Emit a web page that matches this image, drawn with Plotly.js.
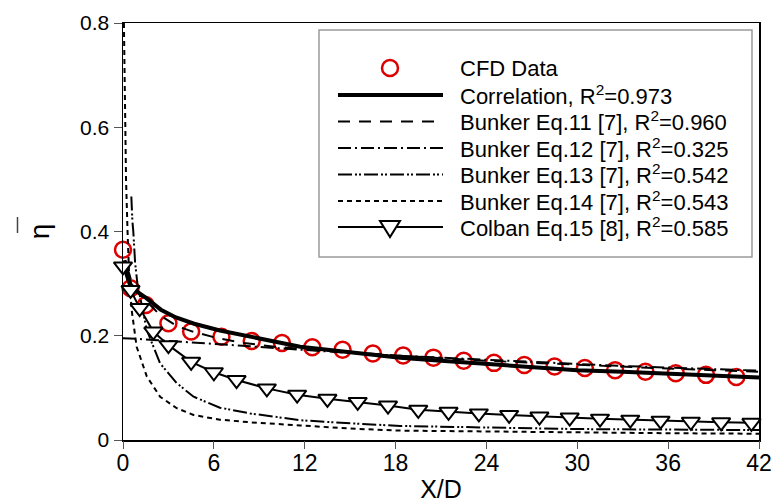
<!DOCTYPE html>
<html>
<head>
<meta charset="utf-8">
<script src="https://cdn.plot.ly/plotly-3.0.1.min.js"></script>
<style>html,body{margin:0;padding:0;background:#fff;}</style>
</head>
<body>
<div id="chart" style="width:773px;height:503px;"></div>
<script>
// ---- data ----
const cfdX = [0,0.5,1.5,3,4.5,6.5,8.5,10.5,12.5,14.5,16.5,18.5,20.5,22.5,24.5,26.5,28.5,30.5,32.5,34.5,36.5,38.5,40.5];
const cfdY = [0.365,0.291,0.259,0.224,0.208,0.198,0.190,0.186,0.178,0.173,0.166,0.162,0.158,0.152,0.148,0.144,0.141,0.138,0.134,0.131,0.128,0.125,0.121];

const corrX = [0.1,0.3,0.5,1,1.5,2.5,3.5,4.7,6.4,8.4,10,11.7,13.5,15,16.5,18.3,21,24,27,30,33,36,39,42];
const corrY = [0.345,0.315,0.298,0.283,0.273,0.25,0.235,0.223,0.21,0.198,0.188,0.179,0.173,0.168,0.163,0.158,0.152,0.146,0.140,0.134,0.131,0.127,0.123,0.12];

const b11X = [0.3,0.6,1,1.5,2.5,3.6,4.6,6.3,8,10,12,15,18,21,24,27,30,33,36,39,42];
const b11Y = [0.33,0.30,0.283,0.268,0.238,0.218,0.208,0.195,0.186,0.179,0.174,0.168,0.162,0.157,0.152,0.148,0.144,0.140,0.137,0.134,0.131];

const b12X = [0,0.6,1,2,4,6,8,10,12,15,18,21,24,27,30,33,36,39,42];
const b12Y = [0.195,0.195,0.194,0.192,0.188,0.184,0.181,0.177,0.173,0.167,0.162,0.158,0.154,0.149,0.145,0.142,0.139,0.136,0.133];

const b13X = [0.55,0.58,0.62,0.68,0.8,0.95,1.1,1.57,2.45,3.55,4.66,6.4,8.4,11.7,15,18.3,24,30,36,42];
const b13Y = [0.467,0.44,0.42,0.40,0.34,0.30,0.28,0.211,0.147,0.109,0.083,0.062,0.051,0.038,0.032,0.027,0.024,0.021,0.020,0.019];

const b14X = [0.06,0.1,0.14,0.2,0.3,0.4,0.57,0.9,1.57,2.45,3.55,4.66,6.4,8.4,11.7,15,18.3,24,30,36,42];
const b14Y = [0.8,0.7,0.6,0.5,0.4,0.32,0.25,0.179,0.122,0.083,0.061,0.048,0.039,0.034,0.028,0.022,0.018,0.016,0.014,0.013,0.012];

const colbanX = [0,0.5,1.1,2,3,4.5,6,7.5,9.5,11.5,13.5,15.5,17.5,19.5,21.5,23.5,25.5,27.5,29.5,31.5,33.5,35.5,37.5,39.5,41.5];
const colbanY = [0.333,0.288,0.253,0.208,0.182,0.150,0.130,0.115,0.099,0.087,0.079,0.073,0.066,0.058,0.054,0.051,0.048,0.045,0.043,0.041,0.039,0.037,0.035,0.034,0.033];

const seriesNames = [
  'CFD Data',
  'Correlation, R<sup>2</sup>=0.973',
  'Bunker Eq.11 [7], R<sup>2</sup>=0.960',
  'Bunker Eq.12 [7], R<sup>2</sup>=0.325',
  'Bunker Eq.13 [7], R<sup>2</sup>=0.542',
  'Bunker Eq.14 [7], R<sup>2</sup>=0.543',
  'Colban Eq.15 [8], R<sup>2</sup>=0.585'
];
const xTitle = 'X/D';
const yTitle = 'η';

// ---- styles ----
const FONT = 'Liberation Sans, Arial, sans-serif';
const NARROW = 'Liberation Sans Narrow, Arial Narrow, Liberation Sans, sans-serif';
const RED = 'rgb(220,0,0)';
const DASH11 = '12px,9px';
const DASH12 = '13px,4px,2px,4px';
const DASH13 = '14px,3px,2px,2px,2px,3px';
const DASH14 = '5px,4px';

const traces = [
  {x: cfdX, y: cfdY, name: seriesNames[0], mode: 'markers', cliponaxis: false,
   marker: {symbol: 'circle-open', size: 16, color: RED, line: {color: RED, width: 2.5}}},
  {x: b11X, y: b11Y, name: seriesNames[2], mode: 'lines', line: {color: 'black', width: 2, dash: DASH11}},
  {x: b12X, y: b12Y, name: seriesNames[3], mode: 'lines', line: {color: 'black', width: 2, dash: DASH12}},
  {x: b13X, y: b13Y, name: seriesNames[4], mode: 'lines', line: {color: 'black', width: 2, dash: DASH13}},
  {x: b14X, y: b14Y, name: seriesNames[5], mode: 'lines', line: {color: 'black', width: 2, dash: DASH14}},
  {x: corrX, y: corrY, name: seriesNames[1], mode: 'lines', line: {color: 'black', width: 4}},
  {x: colbanX, y: colbanY, name: seriesNames[6], mode: 'lines+markers', cliponaxis: false,
   line: {color: 'black', width: 2},
   marker: {symbol: 'triangle-down', size: 16, color: 'white', line: {color: 'black', width: 2}}},
  // empty helper trace so the tick-only overlay axis is drawn
  {x: [], y: [], xaxis: 'x2', yaxis: 'y', mode: 'lines', hoverinfo: 'skip'}
].map(t => Object.assign(t, {showlegend: false, type: 'scatter'}));

// ---- custom legend (drawn in paper space) ----
const M = {l: 123, r: 14, t: 23, b: 63};
const W = 773, H = 503;
const PW = W - M.l - M.r, PH = H - M.t - M.b;
const px = v => (v - M.l) / PW;
const py = v => (H - M.b - v) / PH;

const rowsPx = [68, 95, 121.5, 148, 174.5, 201, 227];
const sampleX0 = px(338), sampleX1 = px(443), sampleMid = px(390), textX = px(458);

const shapes = [
  {type: 'rect', xref: 'paper', yref: 'paper', x0: px(319), x1: px(752), y0: py(257), y1: py(30),
   line: {color: '#9a9a9a', width: 1.5}, fillcolor: 'rgba(0,0,0,0)'},
  // overbar of the y-axis title symbol
  {type: 'line', xref: 'paper', yref: 'paper', x0: px(17.5), x1: px(17.5), y0: py(233), y1: py(217),
   line: {color: '#444', width: 1.5}}
];
const sampleStyles = [
  null,
  {color: 'black', width: 4},
  {color: 'black', width: 2, dash: DASH11},
  {color: 'black', width: 2, dash: DASH12},
  {color: 'black', width: 2, dash: DASH13},
  {color: 'black', width: 2, dash: DASH14},
  {color: 'black', width: 2}
];
sampleStyles.forEach((st, i) => {
  if (!st) return;
  shapes.push({type: 'line', xref: 'paper', yref: 'paper', x0: sampleX0, x1: sampleX1,
    y0: py(rowsPx[i]), y1: py(rowsPx[i]), line: st});
});
shapes.push({type: 'circle', xref: 'paper', yref: 'paper', xsizemode: 'pixel', ysizemode: 'pixel',
  xanchor: sampleMid, yanchor: py(rowsPx[0]), x0: -8, x1: 8, y0: -8, y1: 8,
  line: {color: RED, width: 2.5}, fillcolor: 'rgba(0,0,0,0)'});
shapes.push({type: 'path', xref: 'paper', yref: 'paper', xsizemode: 'pixel', ysizemode: 'pixel',
  xanchor: sampleMid, yanchor: py(rowsPx[6]), path: 'M-10,6 L10,6 L0,-10 Z',
  line: {color: 'black', width: 2}, fillcolor: 'white'});

const annotations = seriesNames.map((n, i) => ({
  xref: 'paper', yref: 'paper', x: textX, y: py(rowsPx[i]), xanchor: 'left', yanchor: 'middle',
  text: n, showarrow: false, font: {family: FONT, size: 22, color: 'black'}
}));

const layout = {
  width: W, height: H, margin: M,
  paper_bgcolor: 'white', plot_bgcolor: 'white',
  showlegend: false,
  xaxis: {
    showline: true, linecolor: 'black', linewidth: 1.5, mirror: true,
    showgrid: false, zeroline: false,
    range: [0, 42], tick0: 0, dtick: 6, ticks: '', ticklen: 0,
    tickfont: {family: NARROW, size: 23, color: 'black'},
    ticklabelstandoff: 2,
    title: {text: xTitle, font: {family: NARROW, size: 25, color: 'black'}, standoff: 14}
  },
  xaxis2: {
    overlaying: 'x', anchor: 'y', side: 'bottom', range: [0, 42], tick0: 0, dtick: 6,
    ticks: 'outside', ticklen: 8, tickwidth: 1, tickcolor: '#555',
    showticklabels: false, showline: false, showgrid: false, zeroline: false
  },
  yaxis: {
    showline: true, linecolor: 'black', linewidth: 1.5, mirror: true,
    ticks: 'outside', ticklen: 8, tickwidth: 1, tickcolor: '#555',
    showgrid: false, zeroline: false,
    range: [0, 0.8], tick0: 0, dtick: 0.2,
    tickfont: {family: FONT, size: 21, color: 'black'},
    title: {text: yTitle, font: {family: FONT, size: 28, color: 'black'}, standoff: 22}
  },
  shapes: shapes,
  annotations: annotations
};

Plotly.newPlot('chart', traces, layout, {displayModeBar: false, staticPlot: true});
</script>
</body>
</html>
